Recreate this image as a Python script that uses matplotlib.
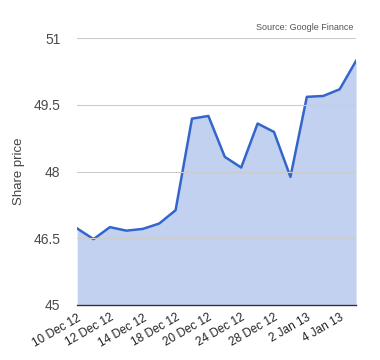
import matplotlib
matplotlib.use("Agg")
import matplotlib.pyplot as plt

plt.rcParams['font.family'] = ['Liberation Sans', 'DejaVu Sans']

# share price, trading days 10 Dec 2012 - 4 Jan 2013
prices = [46.72, 46.48, 46.75, 46.67, 46.71, 46.83, 47.13, 49.19, 49.25,
          48.33, 48.09, 49.08, 48.89, 47.88, 49.68, 49.70, 49.85, 50.49]
tick_labels = ["10 Dec 12", "12 Dec 12", "14 Dec 12", "18 Dec 12", "20 Dec 12",
               "24 Dec 12", "28 Dec 12", "2 Jan 13", "4 Jan 13"]
y_ticks = [45, 46.5, 48, 49.5, 51]
y_tick_labels = ["45", "46.5", "48", "49.5", "51"]

x = list(range(len(prices)))

fig = plt.figure(figsize=(3.8, 3.6), dpi=100)
ax = fig.add_axes([0.203, 0.153, 0.734, 0.741])

ax.fill_between(x, prices, 45, color="#c2d1ef", linewidth=0)
ax.plot(x, prices, color="#3366cc", linewidth=1.8)

ax.set_xlim(0, len(prices) - 1)
ax.set_ylim(45, 51)
ax.set_yticks(y_ticks)
ax.set_yticklabels(y_tick_labels, fontsize=10, color="#4a4a4a")
ax.set_xticks(x[::2])
ax.set_xticklabels(tick_labels, rotation=30, ha="right", rotation_mode="anchor",
                   fontsize=8.5, color="#222222")
ax.tick_params(length=0, pad=12)
ax.tick_params(axis="x", pad=5)

ax.grid(axis="y", color="#cccccc", linewidth=0.8)
ax.set_axisbelow(False)
for s in ["top", "right", "left"]:
    ax.spines[s].set_visible(False)
ax.spines["bottom"].set_color("#333333")
ax.spines["bottom"].set_linewidth(1.0)

ax.set_ylabel("Share price", fontsize=9.5, color="#444444", labelpad=6)
fig.text(0.93, 0.918, "Source: Google Finance", fontsize=6.5, color="#555555", ha="right")

fig.savefig("out.png", dpi=100)
